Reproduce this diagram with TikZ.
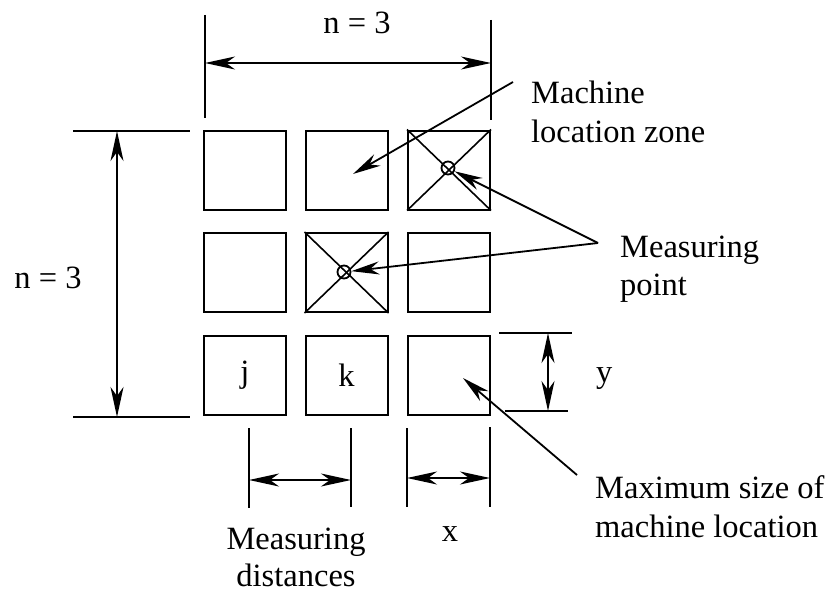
\documentclass[tikz,border=0pt]{standalone}
\usepackage{fontspec}
\setmainfont{Liberation Serif}
\usetikzlibrary{arrows.meta}
\begin{document}
\begin{tikzpicture}[x=1pt,y=-1pt,
  zone/.style={draw,line width=2pt,rectangle,inner sep=0pt,minimum width=82pt,minimum height=79pt,font=\fontsize{32.5}{39}\selectfont},
  mpoint/.style={draw,line width=1.8pt,circle,inner sep=0pt,minimum size=13pt},
  ext/.style={line width=1.8pt},
  dimarrow/.style={line width=1.6pt,{Stealth[length=30pt,width=13pt,inset=9pt]}-{Stealth[length=30pt,width=13pt,inset=9pt]}},
  leader/.style={line width=1.8pt,-{Stealth[length=28pt,width=13pt,inset=9pt]}},
  lbl/.style={font=\fontsize{32.5}{39}\selectfont,inner sep=0pt},
  diag/.style={line width=1.6pt}]
\useasboundingbox (0,0) rectangle (838,594);
% grid of zones
\node[zone] (b11) at (245,170) {};
\node[zone] (b12) at (346.5,170) {};
\node[zone] (b13) at (449,170) {};
\node[zone] (b21) at (245,272.5) {};
\node[zone] (b22) at (346.5,272.5) {};
\node[zone] (b23) at (449,272.5) {};
\node[zone] (b31) at (245,375) {j};
\node[zone] (b32) at (346.5,375) {k};
\node[zone] (b33) at (449,375) {};
% diagonals and measuring points
\draw[diag] (b13.north west) -- (b13.south east);
\draw[diag] (b13.north east) -- (b13.south west);
\draw[diag] (b22.north west) -- (b22.south east);
\draw[diag] (b22.north east) -- (b22.south west);
\node[mpoint] (mp1) at (448,168) {};
\node[mpoint] (mp2) at (344,272) {};
% top dimension
\coordinate (t1a) at (205,15);  \coordinate (t1b) at (205,118);
\coordinate (t2a) at (491,20);  \coordinate (t2b) at (491,120);
\draw[ext] (t1a) -- (t1b);
\draw[ext] (t2a) -- (t2b);
\coordinate (ta) at (205,63); \coordinate (tb) at (491,63);
\draw[dimarrow] (ta) -- (tb);
\node[lbl,anchor=base] (ntop) at (357,34) {n = 3};
% left dimension
\coordinate (l1a) at (73,131); \coordinate (l1b) at (190,131);
\coordinate (l2a) at (73,417); \coordinate (l2b) at (190,417);
\draw[ext] (l1a) -- (l1b);
\draw[ext] (l2a) -- (l2b);
\coordinate (la) at (117,131); \coordinate (lb) at (117,417);
\draw[dimarrow] (la) -- (lb);
\node[lbl,anchor=base] (nleft) at (48,288) {n = 3};
% right y dimension
\coordinate (r1a) at (499,333); \coordinate (r1b) at (572,333);
\coordinate (r2a) at (505,411); \coordinate (r2b) at (568,411);
\draw[ext] (r1a) -- (r1b);
\draw[ext] (r2a) -- (r2b);
\coordinate (ra) at (548,333); \coordinate (rb) at (548,411);
\draw[dimarrow] (ra) -- (rb);
\node[lbl,anchor=base west] (ylbl) at (596,382) {y};
% bottom dimensions
\coordinate (d1a) at (249,428); \coordinate (d1b) at (249,508);
\coordinate (d2a) at (351,428); \coordinate (d2b) at (351,507);
\coordinate (d3a) at (407,428); \coordinate (d3b) at (407,507);
\coordinate (d4a) at (490,427); \coordinate (d4b) at (490,507);
\draw[ext] (d1a) -- (d1b);
\draw[ext] (d2a) -- (d2b);
\draw[ext] (d3a) -- (d3b);
\draw[ext] (d4a) -- (d4b);
\coordinate (ma) at (249,480); \coordinate (mb) at (351,480);
\draw[dimarrow] (ma) -- (mb);
\coordinate (xa) at (407,478); \coordinate (xb) at (490,478);
\draw[dimarrow] (xa) -- (xb);
\node[lbl,anchor=base,align=center,font=\fontsize{32.5}{37}\selectfont] (mdist) at (296,586) {Measuring\\distances};
\node[lbl,anchor=base] (xlbl) at (450,541) {x};
% right labels (base anchor = last line baseline)
\node[lbl,anchor=base west,align=left] (mlz) at (531,142) {Machine\\location zone};
\node[lbl,anchor=base west,align=left,font=\fontsize{32.5}{38}\selectfont] (mpt) at (620,295) {Measuring\\point};
\node[lbl,anchor=base west,align=left] (msz) at (595,537) {Maximum size of\\machine location};
% leaders
\coordinate (c1) at (513,82);
\coordinate (c1t) at (353,174);
\draw[leader] (c1) -- (c1t);
\coordinate (c2) at (598,243);
\draw[leader] (c2) -- (mp1);
\draw[leader] (c2) -- (mp2);
\coordinate (c3) at (577,475);
\coordinate (c3t) at (463,378);
\draw[leader] (c3) -- (c3t);
\end{tikzpicture}
\end{document}
